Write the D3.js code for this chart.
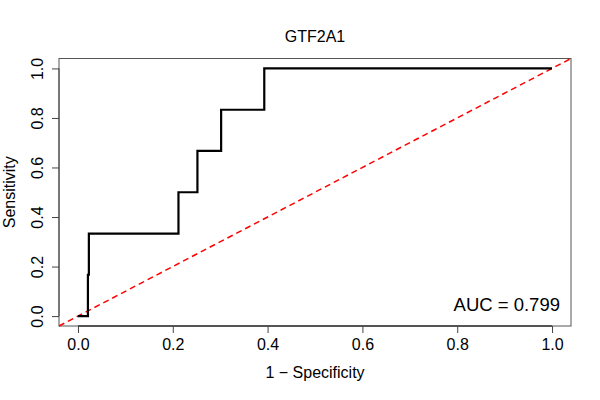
<!DOCTYPE html>
<html>
<head>
<meta charset="utf-8">
<script src="https://cdn.jsdelivr.net/npm/d3@7"></script>
<style>
  body { margin: 0; background: #fff; }
  svg text { font-family: "Liberation Sans", Arial, sans-serif; fill: #000; }
</style>
</head>
<body>
<svg id="main" width="600" height="400"></svg>
<script>
// ROC curve values
var title = "GTF2A1";
var fpr = [0, 0.021, 0.023, 0.212, 0.252, 0.302, 0.393, 1];
var tpr = [0, 0.167, 0.333, 0.5, 0.667, 0.833, 1, 1];
var ticks = [0, 0.2, 0.4, 0.6, 0.8, 1.0];
var aucLabel = "AUC = 0.799";

var svg = d3.select("#main");

// R style axis range: data range extended by 4% each side
var x = d3.scaleLinear().domain([-0.04, 1.04]).range([59, 571]);
var y = d3.scaleLinear().domain([-0.04, 1.04]).range([326, 58.5]);

var points = fpr.map(function(d, i) { return [d, tpr[i]]; });

// plot box
svg.append("rect")
  .attr("x", x(-0.04))
  .attr("y", y(1.04))
  .attr("width", x(1.04) - x(-0.04))
  .attr("height", y(-0.04) - y(1.04))
  .attr("fill", "none")
  .attr("stroke", "#555")
  .attr("stroke-width", 1);

// x axis
var xAxis = d3.axisBottom(x).tickValues(ticks).tickSize(7).tickPadding(6)
  .tickFormat(d3.format(".1f"));
var gx = svg.append("g").attr("transform", "translate(0," + y(-0.04) + ")").call(xAxis);
gx.select(".domain").attr("d", "M" + x(0) + ",0H" + x(1)).attr("stroke", "#000");
gx.selectAll(".tick line").attr("stroke", "#444");
gx.selectAll("text").attr("font-size", 16).attr("dy", "0.71em");

// y axis, labels rotated as in base R
var yAxis = d3.axisLeft(y).tickValues(ticks).tickSize(7).tickFormat(d3.format(".1f"));
var gy = svg.append("g").attr("transform", "translate(" + x(-0.04) + ",0)").call(yAxis);
gy.select(".domain").attr("d", "M0," + y(0) + "V" + y(1)).attr("stroke", "#444");
gy.selectAll(".tick line").attr("stroke", "#444");
gy.selectAll("text")
  .attr("font-size", 16)
  .attr("x", null).attr("dy", null)
  .attr("text-anchor", "middle")
  .attr("transform", "translate(-16,0) rotate(-90)");

// chance line
svg.append("line")
  .attr("x1", x(-0.04)).attr("y1", y(-0.04))
  .attr("x2", x(1.04)).attr("y2", y(1.04))
  .attr("stroke", "#ff0000")
  .attr("stroke-width", 1.5)
  .attr("stroke-dasharray", "6,4");

// ROC curve
var line = d3.line()
  .x(function(d) { return x(d[0]); })
  .y(function(d) { return y(d[1]); })
  .curve(d3.curveStepAfter);

svg.append("path")
  .datum(points)
  .attr("d", line)
  .attr("fill", "none")
  .attr("stroke", "#000")
  .attr("stroke-width", 2.2);

// texts
svg.append("text")
  .attr("x", (x(-0.04) + x(1.04)) / 2)
  .attr("y", 42)
  .attr("text-anchor", "middle")
  .attr("font-size", 16)
  .text(title);

svg.append("text")
  .attr("x", (x(-0.04) + x(1.04)) / 2)
  .attr("y", 378)
  .attr("text-anchor", "middle")
  .attr("font-size", 16)
  .text("1 \u2212 Specificity");

svg.append("text")
  .attr("transform", "translate(15," + (y(-0.04) + y(1.04)) / 2 + ") rotate(-90)")
  .attr("text-anchor", "middle")
  .attr("font-size", 16)
  .text("Sensitivity");

svg.append("text")
  .attr("x", 560)
  .attr("y", 311)
  .attr("text-anchor", "end")
  .attr("font-size", 18.5)
  .text(aucLabel);
</script>
</body>
</html>
